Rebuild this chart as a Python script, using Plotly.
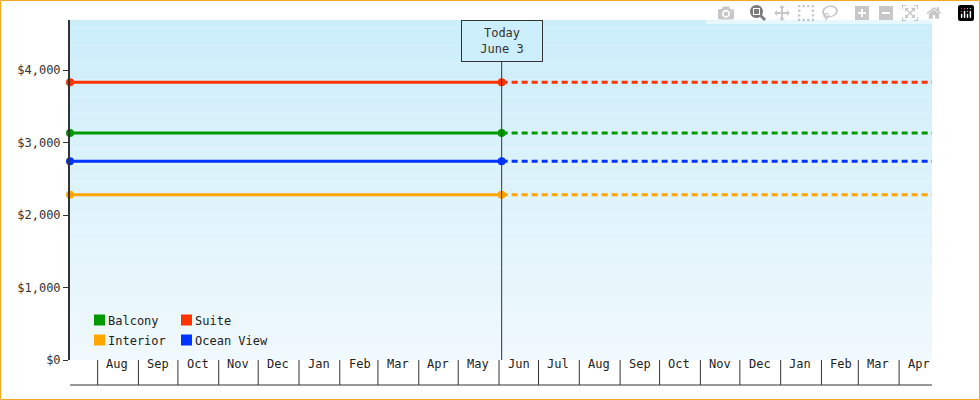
import pandas as pd
import plotly.graph_objects as go

# Priser per hyttkategori
categories = ["Balcony", "Suite", "Interior", "Ocean View"]
prices = [3130, 3830, 2280, 2740]
colors = ["#009900", "#ff3300", "#ffa500", "#0033ff"]
y_ticks = [0, 1000, 2000, 3000, 4000]
y_labels = ["$0", "$1,000", "$2,000", "$3,000", "$4,000"]

start_date = "2023-07-11"
today = "2024-06-03"
end_date = "2025-04-26"
month_ticks = pd.date_range("2023-08-01", "2025-04-01", freq="MS")

W, H = 980, 400
L, R, T, B = 70, 48, 20, 40
pw, ph = W - L - R, H - T - B

fig = go.Figure()
for name, p, c in zip(categories, prices, colors):
    fig.add_trace(go.Scatter(x=[start_date, today], y=[p, p], mode="lines+markers",
                             line=dict(color=c, width=3), marker=dict(size=8, color=c),
                             showlegend=False, cliponaxis=False))
    fig.add_trace(go.Scatter(x=[today, end_date], y=[p, p], mode="lines",
                             line=dict(color=c, width=3, dash="6px,4px"),
                             showlegend=False, cliponaxis=False))

# gradient background
shapes = []
n = 40
for i in range(n):
    f = i / (n - 1)
    r = int(204 + (240 - 204) * f)
    g = int(238 + (249 - 238) * f)
    b = int(251 + (253 - 251) * f)
    shapes.append(dict(type="rect", xref="paper", yref="paper", x0=0, x1=1,
                       y0=1 - (i + 1) / n, y1=1 - i / n, line_width=0,
                       fillcolor=f"rgb({r},{g},{b})", layer="below"))

# today line
shapes.append(dict(type="line", xref="x", yref="paper", x0=today, x1=today, y0=0, y1=1,
                   line=dict(color="#333", width=1)))
# x-axis boxes
shapes.append(dict(type="line", xref="paper", yref="paper", x0=0, x1=1,
                   y0=-25 / ph, y1=-25 / ph, line=dict(color="#333", width=1)))
for d in month_ticks:
    shapes.append(dict(type="line", xref="x", yref="paper", x0=d, x1=d,
                       y0=0, y1=-25 / ph, line=dict(color="#333", width=1)))
# outer border
shapes.append(dict(type="rect", xref="paper", yref="paper",
                   x0=-(L - 0.5) / pw, x1=1 + (R - 0.5) / pw,
                   y0=-(B - 0.5) / ph, y1=1 + (T - 0.5) / ph,
                   line=dict(color="#f5a623", width=1)))

annotations = []
for d in month_ticks:
    annotations.append(dict(x=d + pd.Timedelta(days=15), xref="x", y=-12.5 / ph, yref="paper",
                            text=d.strftime("%b"), showarrow=False,
                            font=dict(size=12, color="#222")))
annotations.append(dict(x=today, xref="x", y=1, yref="paper", yanchor="top",
                        text="Today<br>June 3", showarrow=False, bgcolor="#cdeefb",
                        bordercolor="#333", borderwidth=1, borderpad=5, width=70,
                        font=dict(size=12, color="#333")))

# legend (2 columns)
leg_pos = [(95, 320), (182, 320), (95, 340), (182, 340)]
for (lx, ly), name, c in zip(leg_pos, categories, colors):
    x0 = (lx - L) / pw
    y0 = (H - B - ly) / ph
    shapes.append(dict(type="rect", xref="paper", yref="paper",
                       x0=x0 - 1 / pw, x1=x0 + 10 / pw, y0=y0 - 5.5 / ph, y1=y0 + 5.5 / ph,
                       fillcolor=c, line_width=0))
    annotations.append(dict(x=x0 + 11 / pw, y=y0, xref="paper", yref="paper", xanchor="left",
                            yanchor="middle", yshift=-1,
                            text=name, showarrow=False, font=dict(size=12, color="#222")))

fig.update_layout(
    width=W, height=H, margin=dict(l=L, r=R, t=T, b=B),
    paper_bgcolor="white", plot_bgcolor="rgba(0,0,0,0)",
    font=dict(family="DejaVu Sans Mono", size=12, color="#333"),
    shapes=shapes, annotations=annotations,
    xaxis=dict(type="date", range=[start_date, end_date], showticklabels=False,
               showgrid=False, zeroline=False, showline=False, ticks=""),
    yaxis=dict(range=[0, 4690], tickvals=y_ticks, ticktext=y_labels,
               showgrid=False, zeroline=False,
               showline=True, linecolor="#333", linewidth=2, ticks="outside",
               ticklen=5, tickcolor="#333"),
)
fig.write_html("out.html", post_script="document.body.style.margin='0';")
